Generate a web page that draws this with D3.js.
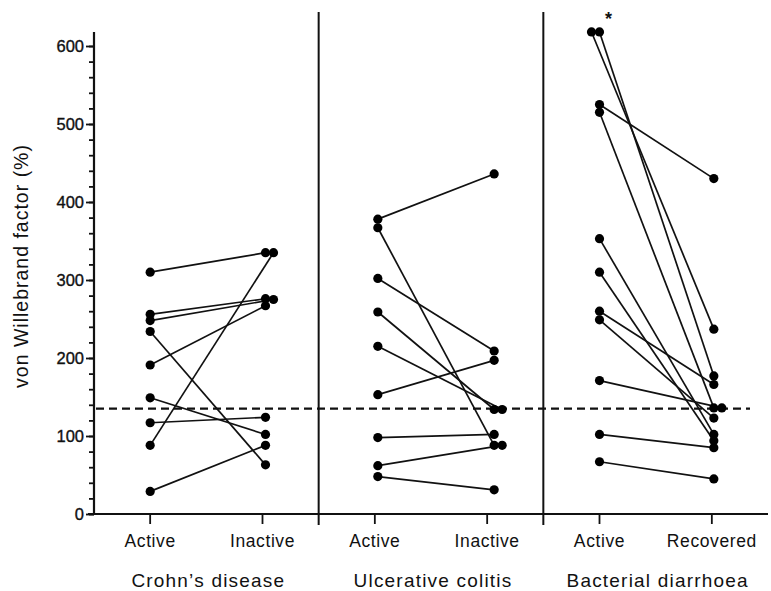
<!DOCTYPE html>
<html>
<head>
<meta charset="utf-8">
<script src="https://cdn.jsdelivr.net/npm/d3@7"></script>
<style>
  html, body { margin: 0; padding: 0; background: #fff; }
  svg { display: block; font-family: "Liberation Sans", Arial, Helvetica, sans-serif; }
</style>
</head>
<body>
<svg id="chart" width="771" height="591"></svg>
<script>
// von Willebrand factor (%) per patient, paired by index (first state -> second state)
const groups = ["Crohn\u2019s disease", "Ulcerative colitis", "Bacterial diarrhoea"];
const stateLabels = [["Active", "Inactive"], ["Active", "Inactive"], ["Active", "Recovered"]];

const crohnsActive   = [310, 256, 248, 191, 234, 149, 117, 88, 29];
const crohnsInactive = [335, 276, 275, 267, 63, 102, 124, 335, 88];

const ucActive   = [378, 367, 302, 259, 215, 153, 98, 62, 48];
const ucInactive = [436, 88, 209, 134, 134, 197, 102, 88, 31];

const bdActive    = [618, 618, 525, 515, 353, 310, 260, 249, 171, 102, 67];
const bdRecovered = [177, 237, 430, 136, 102, 94, 166, 123, 136, 85, 45];

const yTicks = [0, 100, 200, 300, 400, 500, 600];
const yMinorTicks = d3.range(0, 601, 20);
const upperNormal = 135;          // upper limit of the normal range
const significantGroup = 2;       // group marked with an asterisk

const pairs = [
  [crohnsActive, crohnsInactive],
  [ucActive, ucInactive],
  [bdActive, bdRecovered]
];

// ---- layout ----
const svg = d3.select("#chart");
const left = 94, right = 768, baseY = 514, topY = 46;

const y = d3.scaleLinear().domain([0, 600]).range([baseY, topY]);
const gx = d3.scaleBand().domain(groups).range([left, right]).padding(0);
const sx = d3.scalePoint().domain([0, 1]).range([0.25, 0.75]);   // fraction of group width
const colX = (g, s) => gx(groups[g]) + sx(s) * gx.bandwidth();

// small horizontal nudges per column and direction for coinciding dots
const nudge = [[0, 3], [3, 7], [0, 2]];
const spreadDir = [[1, 1], [1, 1], [-1, 1]];
const dotR = 4.6;
const spread = 8;

// build per-point positions, spreading dots that sit on top of each other
const rows = [];
pairs.forEach((pair, g) => {
  const xs = [[], []];
  [0, 1].forEach(s => {
    const vals = pair[s];
    const placed = [];
    vals.forEach((v, i) => {
      const base = colX(g, s) + nudge[g][s];
      let x = base;
      const py = y(v);
      let k = 0;
      while (placed.some(p => Math.abs(p.y - py) < 3 && Math.abs(p.x - x) < spread - 1)) {
        k++;
        x = base + spreadDir[g][s] * k * spread;
      }
      placed.push({x: x, y: py});
      xs[s][i] = x;
    });
  });
  pair[0].forEach((v, i) => {
    rows.push({g, x0: xs[0][i], v0: v, x1: xs[1][i], v1: pair[1][i]});
  });
});

// ---- y axis ----
const yAxisMinor = d3.axisLeft(y).tickValues(yMinorTicks).tickSize(5).tickFormat("");
const yAxisMajor = d3.axisLeft(y).tickValues(yTicks).tickSize(8).tickPadding(2).tickFormat(d3.format("d"));

const gMinor = svg.append("g").attr("transform", `translate(${left},0)`).call(yAxisMinor);
const gMajor = svg.append("g").attr("transform", `translate(${left},0)`).call(yAxisMajor);
[gMinor, gMajor].forEach(g => {
  g.select(".domain").remove();
  g.selectAll(".tick line").attr("stroke", "#111").attr("stroke-width", 1.8);
});
gMajor.selectAll(".tick text")
  .attr("fill", "#111")
  .attr("stroke", "#111")
  .attr("stroke-width", 0.35)
  .style("font-size", "16.5px");

svg.append("line")
  .attr("x1", left).attr("x2", left)
  .attr("y1", 32).attr("y2", baseY + 1)
  .attr("stroke", "#111").attr("stroke-width", 2.2);

svg.append("text")
  .attr("transform", "translate(28,266) rotate(-90)")
  .attr("text-anchor", "middle")
  .style("font-size", "19.5px")
  .style("letter-spacing", "1px")
  .attr("fill", "#111")
  .text("von Willebrand factor (%)");

// ---- x axis ----
svg.append("line")
  .attr("x1", 88).attr("x2", right)
  .attr("y1", baseY).attr("y2", baseY)
  .attr("stroke", "#111").attr("stroke-width", 2.2);

// group dividers
groups.slice(1).forEach(gname => {
  svg.append("line")
    .attr("x1", gx(gname)).attr("x2", gx(gname))
    .attr("y1", 12).attr("y2", baseY + 11)
    .attr("stroke", "#111").attr("stroke-width", 2);
});

groups.forEach((gname, g) => {
  [0, 1].forEach(s => {
    const cx = colX(g, s);
    svg.append("line")
      .attr("x1", cx).attr("x2", cx)
      .attr("y1", baseY).attr("y2", baseY + 10)
      .attr("stroke", "#111").attr("stroke-width", 1.8);
    svg.append("text")
      .attr("x", cx).attr("y", 547)
      .attr("text-anchor", "middle")
      .style("font-size", "17.5px")
      .style("letter-spacing", "0.6px")
      .attr("fill", "#111")
      .text(stateLabels[g][s]);
  });
  svg.append("text")
    .attr("x", gx(gname) + gx.bandwidth() / 2 + 2).attr("y", 587)
    .attr("text-anchor", "middle")
    .style("font-size", "19px")
    .style("letter-spacing", "1.2px")
    .attr("fill", "#111")
    .text(gname);
});

// ---- reference line ----
svg.append("line")
  .attr("x1", left + 2).attr("x2", 750)
  .attr("y1", y(upperNormal)).attr("y2", y(upperNormal))
  .attr("stroke", "#111").attr("stroke-width", 2.2)
  .attr("stroke-dasharray", "8,5");

// ---- paired lines and dots ----
svg.append("g").selectAll("line").data(rows).join("line")
  .attr("x1", d => d.x0).attr("y1", d => y(d.v0))
  .attr("x2", d => d.x1).attr("y2", d => y(d.v1))
  .attr("stroke", "#111").attr("stroke-width", 1.7);

const dots = rows.flatMap(d => [{x: d.x0, v: d.v0}, {x: d.x1, v: d.v1}]);
svg.append("g").selectAll("circle").data(dots).join("circle")
  .attr("cx", d => d.x).attr("cy", d => y(d.v))
  .attr("r", dotR)
  .attr("fill", "#000");

// significance marker
svg.append("text")
  .attr("x", colX(significantGroup, 0) + 9).attr("y", 25)
  .attr("text-anchor", "middle")
  .style("font-size", "18px")
  .style("font-weight", "bold")
  .attr("fill", "#111")
  .text("*");
</script>
</body>
</html>
